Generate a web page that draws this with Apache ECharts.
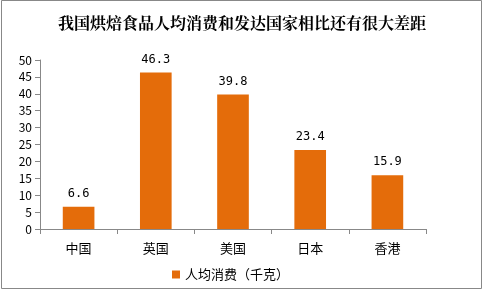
<!DOCTYPE html>
<html><head><meta charset="utf-8">
<script src="https://cdn.jsdelivr.net/npm/echarts@6/dist/echarts.min.js"></script>
<style>html,body{margin:0;padding:0;background:#fff}#c{width:484px;height:291px}</style>
</head><body><div id="c"></div>
<script>
const categories = ['中国', '英国', '美国', '日本', '香港'];
const values = [6.6, 46.3, 39.8, 23.4, 15.9];
const seriesName = '人均消费（千克）';
const titleText = '我国烘焙食品人均消费和发达国家相比还有很大差距';
const yMin = 0, yMax = 50, yStep = 5;

const chart = echarts.init(document.getElementById('c'), null, {renderer: 'canvas'});
const font = '"Noto Sans CJK SC", "SimSun", sans-serif';
chart.setOption({
  animation: false,
  backgroundColor: '#fff',
  title: {
    text: titleText, left: 'center', top: 10,
    textStyle: {fontSize: 16, fontWeight: 'bold', color: '#000', fontFamily: '"Noto Serif CJK SC", "Noto Sans CJK SC", serif'}
  },
  graphic: [{
    type: 'rect', shape: {x: 1.5, y: 0.5, width: 480, height: 288},
    style: {fill: 'none', stroke: '#888', lineWidth: 1}, silent: true
  }],
  legend: {
    data: [seriesName], left: 167, top: 263, itemWidth: 8, itemHeight: 8, itemGap: 2,
    icon: 'rect',
    textStyle: {fontSize: 13, color: '#000', fontFamily: font}
  },
  grid: {left: 40, right: 58, top: 60, bottom: 62},
  xAxis: {
    type: 'category', data: categories,
    axisLine: {lineStyle: {color: '#888'}},
    axisTick: {show: true, length: 5, lineStyle: {color: '#888'}},
    axisLabel: {fontSize: 13, color: '#000', margin: 13, fontFamily: font}
  },
  yAxis: {
    type: 'value', min: yMin, max: yMax, interval: yStep,
    axisLine: {show: true, lineStyle: {color: '#888'}},
    axisTick: {show: true, length: 5, lineStyle: {color: '#888'}},
    splitLine: {show: false},
    axisLabel: {fontSize: 12, color: '#000', margin: 8, fontFamily: font}
  },
  series: [{
    name: seriesName, type: 'bar', data: values, barWidth: '41%',
    itemStyle: {color: '#E46C0A'},
    label: {show: true, position: 'top', distance: 7, fontSize: 12, color: '#000', fontFamily: 'monospace'}
  }]
});
</script></body></html>
